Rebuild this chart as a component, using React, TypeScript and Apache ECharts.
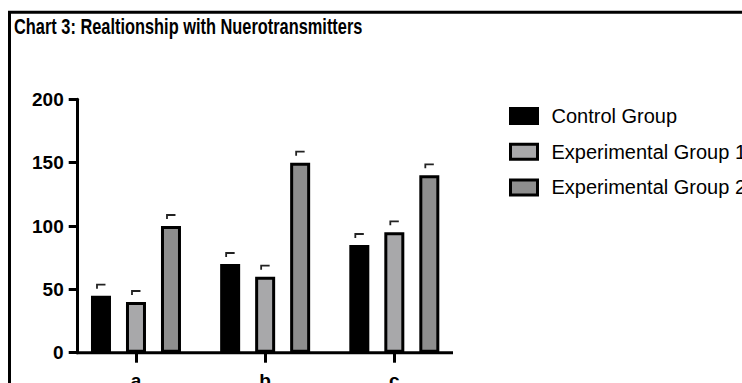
import React, { useEffect, useRef } from "react";
import * as echarts from "echarts";

const categories = ["a", "b", "c"];
const controlGroup = [45, 70, 85];
const experimentalGroup1 = [40, 60, 95];
const experimentalGroup2 = [100, 150, 140];
const seriesNames = ["Control Group", "Experimental Group 1", "Experimental Group 2"];
const yTicks = { min: 0, max: 200, interval: 50 };
const titleText = "Chart 3: Realtionship with Nuerotransmitters";

const FONT = "'Liberation Sans', Arial, sans-serif";
const fills = ["#000000", "#a8a8aa", "#8e8e8e"];
const barOffsets = [-35, 0, 35];

export default function App() {
  const ref = useRef<HTMLDivElement>(null);
  useEffect(() => {
    if (!ref.current) return;
    const chart = echarts.init(ref.current, undefined, { renderer: "svg" });
    const groups = [controlGroup, experimentalGroup1, experimentalGroup2];

    const barSeries = groups.map((vals, si) => ({
      name: seriesNames[si],
      type: "bar",
      data: vals,
      barWidth: 20,
      barGap: "75%",
      itemStyle: { color: fills[si], borderColor: "#000", borderWidth: 3 },
      z: 2,
    }));

    const errSeries = groups.map((vals, si) => ({
      name: "err" + si,
      type: "custom",
      coordinateSystem: "cartesian2d",
      data: vals.map((v, i) => [i, v]),
      encode: { x: 0, y: 1 },
      z: 3,
      silent: true,
      renderItem: (params: any, api: any) => {
        const p = api.coord([api.value(0), api.value(1)]);
        const x = p[0] + barOffsets[si];
        const y = p[1] - 11;
        return {
          type: "polyline",
          shape: { points: [[x - 4, y + 4], [x - 4, y], [x + 4.5, y]] },
          style: { stroke: "#222", lineWidth: 1.8, fill: "none" },
        };
      },
    }));

    chart.setOption({
      animation: false,
      backgroundColor: "#ffffff",
      legend: {
        orient: "vertical",
        left: 509,
        top: 106,
        padding: 0,
        itemWidth: 27,
        itemHeight: 15,
        itemGap: 15.7,
        icon: "rect",
        data: seriesNames.map((n, i) => ({
          name: n,
          icon: "rect",
          itemStyle: { color: fills[i], borderColor: "#000", borderWidth: 3 },
        })),
        textStyle: {
          fontFamily: FONT,
          fontSize: 20,
          color: "#000",
          lineHeight: 18,
          padding: [0, 0, 0, 9],
        },
        selectedMode: false,
      },
      grid: {
        left: 71.4,
        top: 99.3,
        width: 387.5,
        height: 253.4,
        containLabel: false,
        outerBoundsMode: "none",
      },
      xAxis: {
        type: "category",
        data: categories,
        axisLine: { show: false },
        axisTick: {
          show: true,
          alignWithLabel: true,
          length: 10,
          lineStyle: { color: "#000", width: 3 },
        },
        axisLabel: {
          margin: 18,
          fontFamily: FONT,
          fontWeight: "bold",
          fontSize: 19,
          color: "#000",
        },
        splitLine: { show: false },
      },
      yAxis: {
        type: "value",
        min: yTicks.min,
        max: yTicks.max,
        interval: yTicks.interval,
        offset: -6.3,
        axisLine: { show: true, lineStyle: { color: "#000", width: 3 } },
        axisTick: { show: true, length: 9, lineStyle: { color: "#000", width: 3 } },
        axisLabel: {
          margin: 14,
          fontFamily: FONT,
          fontWeight: "bold",
          fontSize: 19,
          color: "#000",
        },
        splitLine: { show: false },
      },
      graphic: [
        {
          type: "rect",
          shape: { x: 9.5, y: 12.3, width: 800, height: 500 },
          style: { fill: "none", stroke: "#000", lineWidth: 3 },
          silent: true,
        },
        {
          type: "text",
          x: 14,
          y: 15,
          scaleX: 0.745,
          style: {
            text: titleText,
            font: "bold 22px 'Liberation Sans', Arial, sans-serif",
            fill: "#000",
            verticalAlign: "top",
          },
          silent: true,
        },
        {
          type: "line",
          shape: { x1: 76.2, y1: 352.7, x2: 453, y2: 352.7 },
          style: { stroke: "#000", lineWidth: 3 },
          z: 10,
          silent: true,
        },
      ],
      series: [...barSeries, ...errSeries],
    });
    return () => chart.dispose();
  }, []);
  return (
    <div
      ref={ref}
      style={{ position: "fixed", left: 0, top: 0, width: 742, height: 383, background: "#fff" }}
    />
  );
}
